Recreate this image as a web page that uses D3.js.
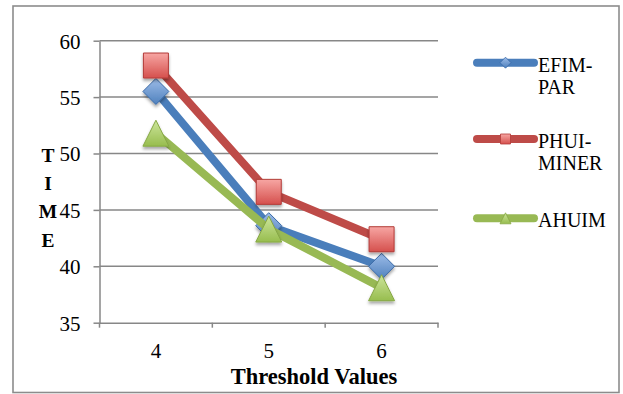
<!DOCTYPE html>
<html>
<head>
<meta charset="utf-8">
<script src="https://cdn.jsdelivr.net/npm/d3@7/dist/d3.min.js"></script>
<style>
  html, body { margin: 0; padding: 0; background: #fff; }
  svg { display: block; }
</style>
</head>
<body>
<svg id="chart" width="623" height="394"></svg>
<script>
// Threshold values on the x axis and running time per algorithm
const categories = ["4", "5", "6"];
const efimPar   = [55.5, 43.6, 40.0];
const phuiMiner = [57.8, 46.6, 42.4];
const ahuim     = [51.8, 43.3, 38.1];
const yTicks = [35, 40, 45, 50, 55, 60];
const seriesNames = ["EFIM-PAR", "PHUI-MINER", "AHUIM"];
const legendLines = [["EFIM-", "PAR"], ["PHUI-", "MINER"], ["AHUIM"]];
const xTitle = "Threshold Values";
const yTitle = ["T", "I", "M", "E"];

const FONT = '"Liberation Serif", "Times New Roman", serif';

const series = [
  { name: seriesNames[0], values: efimPar,   line: "#4A7EBB", top: "#9DBCE8", bottom: "#4F81BD", edge: "#3A6AA8", shape: "diamond" },
  { name: seriesNames[1], values: phuiMiner, line: "#BE4B48", top: "#F7A6A3", bottom: "#D5504D", edge: "#B23B38", shape: "square" },
  { name: seriesNames[2], values: ahuim,     line: "#98B954", top: "#CDE59C", bottom: "#97BD4E", edge: "#86A844", shape: "triangle" }
];

const svg = d3.select("#chart");
const defs = svg.append("defs");

// soft shadow under the markers
const f = defs.append("filter").attr("id", "mshadow")
  .attr("x", "-50%").attr("y", "-50%").attr("width", "200%").attr("height", "220%");
f.append("feDropShadow").attr("dx", 0).attr("dy", 2.5).attr("stdDeviation", 1.8)
  .attr("flood-color", "#000").attr("flood-opacity", 0.35);

series.forEach((s, i) => {
  const g = defs.append("linearGradient").attr("id", "grad" + i)
    .attr("x1", 0).attr("y1", 0).attr("x2", 0).attr("y2", 1);
  g.append("stop").attr("offset", "0%").attr("stop-color", s.top);
  g.append("stop").attr("offset", "100%").attr("stop-color", s.bottom);
});

// outer chart frame
svg.append("rect").attr("x", 13).attr("y", 6).attr("width", 606).attr("height", 386.5)
  .attr("fill", "#fff").attr("stroke", "#8c8c8c").attr("stroke-width", 1.6);

const plot = { left: 99.5, right: 438, top: 40.7, bottom: 322.7 };

const x = d3.scaleBand().domain(categories).range([plot.left, plot.right]).padding(0);
const y = d3.scaleLinear().domain([35, 60]).range([plot.bottom, plot.top]);

// horizontal gridlines
svg.append("g").selectAll("line").data(yTicks.filter(t => t !== 35)).join("line")
  .attr("x1", plot.left).attr("x2", plot.right)
  .attr("y1", d => y(d)).attr("y2", d => y(d))
  .attr("stroke", "#878787").attr("stroke-width", 1.5);

// y axis
const yAxis = svg.append("g").attr("transform", `translate(${plot.left},0)`)
  .call(d3.axisLeft(y).tickValues(yTicks).tickSize(6).tickPadding(13).tickSizeOuter(0));
yAxis.select(".domain").attr("stroke", "#878787").attr("stroke-width", 1.5);
yAxis.selectAll(".tick line").attr("stroke", "#878787").attr("stroke-width", 1.5);
yAxis.selectAll(".tick text").attr("fill", "#000").attr("dy", "0.35em")
  .style("font-family", FONT).style("font-size", "21px");

// x axis: labels at category centres, tick marks at category boundaries
const xAxis = svg.append("g").attr("transform", `translate(0,${plot.bottom})`)
  .call(d3.axisBottom(x).tickSize(0).tickPadding(20).tickSizeOuter(0));
xAxis.select(".domain").attr("stroke", "#878787").attr("stroke-width", 1.5);
xAxis.selectAll(".tick text").attr("fill", "#000")
  .style("font-family", FONT).style("font-size", "21px");
const bounds = categories.map(c => x(c)).concat([x(categories[categories.length - 1]) + x.bandwidth()]);
xAxis.selectAll(".bound").data(bounds).join("line").attr("class", "bound")
  .attr("x1", d => d).attr("x2", d => d).attr("y1", 0).attr("y2", 5)
  .attr("stroke", "#878787").attr("stroke-width", 1.5);

// axis titles
svg.append("text").attr("x", 314).attr("y", 384).attr("text-anchor", "middle")
  .style("font-family", FONT).style("font-size", "22.5px").style("font-weight", "bold").text(xTitle);
svg.append("g").selectAll("text").data(yTitle).join("text")
  .attr("x", 48).attr("y", (d, i) => 162 + i * 28.2).attr("text-anchor", "middle")
  .style("font-family", FONT).style("font-size", "19.5px").style("font-weight", "bold").text(d => d);

function markerPath(shape, r) {
  if (shape === "diamond") return `M0,${-r}L${r},0L0,${r}L${-r},0Z`;
  if (shape === "square") return `M${-r},${-r}H${r}V${r}H${-r}Z`;
  return `M0,${-r}L${r},${r}L${-r},${r}Z`;
}
const markerSize = { diamond: 13, square: 12.5, triangle: 13 };

const line = d3.line().x((d, i) => x(categories[i]) + x.bandwidth() / 2).y(d => y(d));

series.forEach((s, i) => {
  const g = svg.append("g");
  g.append("path").attr("d", line(s.values)).attr("fill", "none")
    .attr("stroke", s.line).attr("stroke-width", 8).attr("stroke-linejoin", "round");
  g.selectAll("path.m").data(s.values).join("path").attr("class", "m")
    .attr("transform", (d, j) => `translate(${x(categories[j]) + x.bandwidth() / 2},${y(d)})`)
    .attr("d", markerPath(s.shape, markerSize[s.shape]))
    .attr("fill", `url(#grad${i})`).attr("stroke", s.edge).attr("stroke-width", 1)
    .attr("filter", "url(#mshadow)");
});

// legend
const legendY = [62.7, 139, 218.3];
series.forEach((s, i) => {
  const g = svg.append("g").attr("transform", `translate(0,${legendY[i]})`);
  g.append("line").attr("x1", 477).attr("x2", 534).attr("y1", 0).attr("y2", 0)
    .attr("stroke", s.line).attr("stroke-width", 8).attr("stroke-linecap", "round");
  g.append("path").attr("transform", "translate(505.5,0)")
    .attr("d", markerPath(s.shape, s.shape === "square" ? 5 : 5.5))
    .attr("fill", `url(#grad${i})`).attr("stroke", s.edge).attr("stroke-width", 0.8);
  g.selectAll("text").data(legendLines[i]).join("text")
    .attr("x", 538).attr("y", (d, k) => 9 + k * 22)
    .style("font-family", FONT).style("font-size", "20px").text(d => d);
});
</script>
</body>
</html>
